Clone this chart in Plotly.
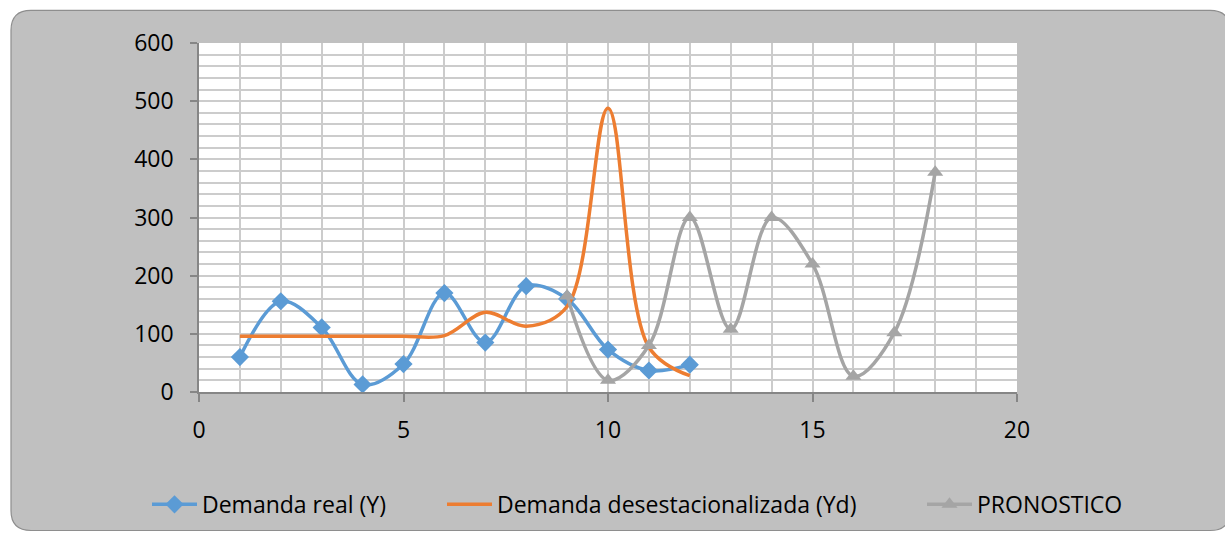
import plotly.graph_objects as go

# ---- data ----
x_real = [1, 2, 3, 4, 5, 6, 7, 8, 9, 10, 11, 12]
demanda_real = [60, 156, 111, 13, 48, 170, 85, 182, 160, 73, 37, 47]

x_des = [1, 2, 3, 4, 5, 6, 7, 8, 9, 10, 11, 12]
demanda_des = [96, 96, 96, 96, 96, 97, 137, 113, 147, 488, 77, 28]

x_pron = [9, 10, 11, 12, 13, 14, 15, 16, 17, 18]
pronostico = [165, 20, 80, 300, 108, 300, 220, 27, 102, 378]

x_ticks = [0, 5, 10, 15, 20]
y_ticks = [0, 100, 200, 300, 400, 500, 600]

FONT = "Open Sans"
FS = 23
W, H = 1225, 538
L, R, T, B = 199, 1017, 43, 397
PW, PH = R - L, B - T


def px2paper(px, py):
    return (px - L) / PW, (B - py) / PH


fig = go.Figure()

fig.add_trace(go.Scatter(
    x=x_real, y=demanda_real, name="Demanda real (Y)", mode="lines+markers",
    line=dict(color="#5B9BD5", width=3.5, shape="spline", smoothing=1),
    marker=dict(symbol="diamond", size=14, color="#5B9BD5"),
    legend="legend", showlegend=True,
))
fig.add_trace(go.Scatter(
    x=x_des, y=demanda_des, name="Demanda desestacionalizada (Yd)", mode="lines",
    line=dict(color="#ED7D31", width=3.5, shape="spline", smoothing=1),
    legend="legend2", showlegend=True,
))
fig.add_trace(go.Scatter(
    x=x_pron, y=pronostico, name="PRONOSTICO", mode="lines+markers",
    line=dict(color="#A5A5A5", width=3.5, shape="spline", smoothing=1),
    marker=dict(symbol="triangle-up", size=14, color="#A5A5A5"),
    legend="legend3", showlegend=True,
))

# rounded grey chart area
bl, bt, br, bb, r = 11, 10, 1230, 537.5, 20


def P(px, py):
    x, y = px2paper(px, py)
    return f"{x:.5f},{y:.5f}"


path = (
    f"M {P(bl + r, bt)} L {P(br - r, bt)} Q {P(br, bt)} {P(br, bt + r)} "
    f"L {P(br, bb - r)} Q {P(br, bb)} {P(br - r, bb)} "
    f"L {P(bl + r, bb)} Q {P(bl, bb)} {P(bl, bb - r)} "
    f"L {P(bl, bt + r)} Q {P(bl, bt)} {P(bl + r, bt)} Z"
)

shapes = [
    dict(type="path", xref="paper", yref="paper", path=path,
         fillcolor="#C0C0C0", line=dict(color="#8E8E8E", width=1.2), layer="below"),
    dict(type="rect", xref="paper", yref="paper", x0=0, x1=1, y0=0, y1=1,
         fillcolor="white", line=dict(width=0), layer="below"),
]

ITEMW = 45
TXT_OFF = 40 + (ITEMW - 30)
leg_y = px2paper(0, 511)[1]
common_leg = dict(orientation="h", yanchor="middle", y=leg_y, xanchor="left",
                  itemwidth=ITEMW,
                  bgcolor="rgba(0,0,0,0)", font=dict(family=FONT, size=FS, color="#000000"))

fig.update_layout(
    width=W, height=H,
    margin=dict(l=L, r=W - R, t=T, b=H - B),
    paper_bgcolor="white",
    plot_bgcolor="white",
    shapes=shapes,
    showlegend=True,
    font=dict(family=FONT, size=FS, color="#000000"),
    legend=dict(x=px2paper(202 - TXT_OFF, 0)[0], **common_leg),
    legend2=dict(x=px2paper(497 - TXT_OFF, 0)[0], **common_leg),
    legend3=dict(x=px2paper(977 - TXT_OFF, 0)[0], **common_leg),
    xaxis=dict(
        range=[0, 20], tickvals=x_ticks, ticktext=[str(v) for v in x_ticks],
        showgrid=True, gridcolor="#CCCCCC", gridwidth=1.5,
        minor=dict(dtick=1, showgrid=True, gridcolor="#CCCCCC", gridwidth=1.5),
        showline=True, linecolor="#868686", linewidth=1.5,
        ticks="outside", ticklen=8, tickcolor="#868686", tickwidth=1.5,
        ticklabelstandoff=9, zeroline=False,
        tickfont=dict(family=FONT, size=FS, color="#000000"),
    ),
    yaxis=dict(
        range=[0, 600], tickvals=y_ticks, ticktext=[str(v) for v in y_ticks],
        showgrid=True, gridcolor="#CCCCCC", gridwidth=1.5,
        minor=dict(dtick=20, showgrid=True, gridcolor="#CCCCCC", gridwidth=1.5),
        showline=True, linecolor="#868686", linewidth=1.5,
        ticks="outside", ticklen=7, tickcolor="#868686", tickwidth=1.5,
        ticklabelstandoff=12, zeroline=False,
        tickfont=dict(family=FONT, size=FS, color="#000000"),
    ),
)

fig.write_html("out.html", config={"displayModeBar": False},
               post_script="document.body.style.margin='0px';")
